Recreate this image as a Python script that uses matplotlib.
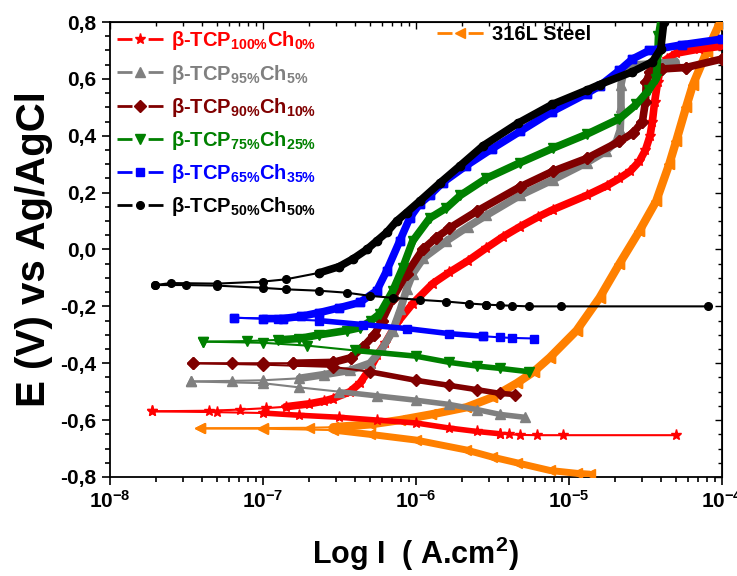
import numpy as np
import matplotlib
matplotlib.use('Agg')
import matplotlib.pyplot as plt
from matplotlib.lines import Line2D
from matplotlib.ticker import FuncFormatter, MultipleLocator, LogLocator, NullFormatter

plt.rcParams['font.family'] = ['Liberation Sans', 'DejaVu Sans']
plt.rcParams['font.weight'] = 'bold'
plt.rcParams['mathtext.fontset'] = 'custom'
plt.rcParams['mathtext.rm'] = 'Liberation Sans:bold'
plt.rcParams['mathtext.bf'] = 'Liberation Sans:bold'
plt.rcParams['mathtext.it'] = 'Liberation Sans:bold:italic'
plt.rcParams['mathtext.default'] = 'bf'

# values: (log10 I, E in V)
# b-TCP 100% / Ch 0%
red_anodic = [(-7.72, -0.569), (-7.35, -0.567), (-7.15, -0.563), (-6.98, -0.558), (-6.85, -0.553),
              (-6.7, -0.543), (-6.6, -0.533), (-6.54, -0.524), (-6.43, -0.50), (-6.365, -0.47),
              (-6.30, -0.42), (-6.25, -0.37), (-6.20, -0.33), (-6.125, -0.26), (-6.02, -0.19),
              (-5.89, -0.12), (-5.78, -0.08), (-5.66, -0.04), (-5.54, 0.005), (-5.43, 0.045),
              (-5.32, 0.08), (-5.2, 0.115), (-5.105, 0.14), (-4.885, 0.19), (-4.75, 0.225),
              (-4.67, 0.25), (-4.6, 0.275), (-4.54, 0.31), (-4.5, 0.35), (-4.47, 0.40),
              (-4.455, 0.45), (-4.44, 0.52), (-4.42, 0.59), (-4.40, 0.64), (-4.36, 0.67),
              (-4.30, 0.69), (-4.15, 0.705), (-4.0, 0.715)]
red_cathodic = [(-7.72, -0.569), (-7.3, -0.572), (-7.0, -0.575), (-6.76, -0.583), (-6.5, -0.59),
                (-6.25, -0.60), (-6.0, -0.61), (-5.78, -0.628), (-5.6, -0.64), (-5.45, -0.648)]
red_tail = [(-5.45, -0.648), (-5.39, -0.65), (-5.32, -0.652), (-5.21, -0.653), (-5.04, -0.653),
            (-4.30, -0.653)]

# b-TCP 95% / Ch 5%
gray_anodic = [(-7.465, -0.464), (-7.2, -0.462), (-7.0, -0.46), (-6.76, -0.453), (-6.6, -0.44),
               (-6.43, -0.425), (-6.3, -0.40), (-6.22, -0.35), (-6.15, -0.285), (-6.1, -0.21),
               (-6.06, -0.14), (-6.02, -0.085), (-5.95, -0.03), (-5.80, 0.03), (-5.66, 0.08),
               (-5.54, 0.12), (-5.32, 0.19), (-5.105, 0.245), (-4.885, 0.305), (-4.76, 0.345),
               (-4.69, 0.38), (-4.665, 0.42), (-4.66, 0.50), (-4.66, 0.58), (-4.64, 0.63),
               (-4.6, 0.648), (-4.455, 0.653), (-4.3, 0.66)]
gray_cathodic = [(-7.465, -0.464), (-7.0, -0.47), (-6.76, -0.485), (-6.5, -0.50), (-6.25, -0.515),
                 (-6.0, -0.53), (-5.78, -0.545), (-5.6, -0.563), (-5.45, -0.58), (-5.29, -0.59)]

# b-TCP 90% / Ch 10%
maroon_anodic = [(-7.455, -0.40), (-7.2, -0.40), (-7.0, -0.40), (-6.8, -0.40), (-6.54, -0.397),
                 (-6.42, -0.38), (-6.345, -0.343), (-6.27, -0.30), (-6.22, -0.25), (-6.15, -0.17),
                 (-6.06, -0.085), (-5.955, 0.0), (-5.87, 0.04), (-5.78, 0.075), (-5.60, 0.135),
                 (-5.32, 0.22), (-5.105, 0.275), (-4.885, 0.32), (-4.67, 0.38), (-4.58, 0.41),
                 (-4.52, 0.45), (-4.50, 0.52), (-4.495, 0.59), (-4.47, 0.625), (-4.39, 0.635),
                 (-4.235, 0.64), (-4.0, 0.67)]
maroon_cathodic = [(-7.455, -0.40), (-7.0, -0.405), (-6.54, -0.413), (-6.3, -0.43), (-6.0, -0.46),
                   (-5.78, -0.478), (-5.6, -0.493), (-5.45, -0.506), (-5.355, -0.51)]

# b-TCP 75% / Ch 25%
green_anodic = [(-7.39, -0.324), (-7.1, -0.322), (-6.9, -0.318), (-6.76, -0.313), (-6.63, -0.30),
                (-6.45, -0.285), (-6.365, -0.275), (-6.29, -0.25), (-6.235, -0.226), (-6.15, -0.145),
                (-6.085, -0.064), (-6.02, 0.03), (-5.91, 0.11), (-5.8, 0.146), (-5.71, 0.19),
                (-5.54, 0.25), (-5.32, 0.305), (-5.105, 0.356), (-4.885, 0.405), (-4.67, 0.46),
                (-4.56, 0.51), (-4.48, 0.56), (-4.43, 0.60), (-4.42, 0.68), (-4.415, 0.75),
                (-4.40, 0.80)]
green_cathodic = [(-7.39, -0.324), (-7.0, -0.328), (-6.71, -0.338), (-6.4, -0.355), (-6.0, -0.375),
                  (-5.78, -0.397), (-5.6, -0.41), (-5.45, -0.418), (-5.26, -0.43)]

# b-TCP 65% / Ch 35%
blue_anodic = [(-7.19, -0.24), (-7.0, -0.243), (-6.87, -0.243), (-6.75, -0.235), (-6.63, -0.222),
               (-6.5, -0.205), (-6.365, -0.186), (-6.255, -0.145), (-6.19, -0.075), (-6.105, 0.03),
               (-6.04, 0.11), (-5.975, 0.16), (-5.91, 0.19), (-5.825, 0.235), (-5.67, 0.295),
               (-5.50, 0.355), (-5.32, 0.415), (-5.11, 0.485), (-4.885, 0.548), (-4.80, 0.575),
               (-4.67, 0.63), (-4.585, 0.67), (-4.475, 0.70), (-4.26, 0.72), (-4.0, 0.74)]
blue_cathodic = [(-7.19, -0.24), (-6.9, -0.244), (-6.63, -0.25), (-6.345, -0.264), (-6.06, -0.278),
                 (-5.78, -0.296), (-5.56, -0.305)]
blue_tail = [(-5.56, -0.305), (-5.45, -0.309), (-5.37, -0.311), (-5.225, -0.313)]

# b-TCP 50% / Ch 50%
black_anodic = [(-7.70, -0.125), (-7.6, -0.118), (-7.3, -0.12), (-7.0, -0.113), (-6.85, -0.105),
                (-6.63, -0.082), (-6.5, -0.06), (-6.41, -0.033), (-6.32, 0.0), (-6.255, 0.03),
                (-6.19, 0.06), (-6.125, 0.10), (-6.06, 0.13), (-5.975, 0.17), (-5.84, 0.235),
                (-5.71, 0.295), (-5.56, 0.365), (-5.33, 0.445), (-5.11, 0.51), (-4.885, 0.56),
                (-4.8, 0.58), (-4.585, 0.625), (-4.455, 0.66), (-4.40, 0.706), (-4.38, 0.80)]
black_cathodic = [(-7.70, -0.125), (-7.5, -0.125), (-7.3, -0.127), (-7.0, -0.135), (-6.85, -0.14),
                  (-6.63, -0.145), (-6.45, -0.152), (-6.30, -0.163), (-6.15, -0.17), (-5.975, -0.177),
                  (-5.8, -0.183), (-5.65, -0.19), (-5.54, -0.194)]
black_tail = [(-5.54, -0.194), (-5.45, -0.196), (-5.37, -0.198), (-5.26, -0.20), (-5.05, -0.20),
              (-4.09, -0.20)]

# 316L steel
orange_anodic = [(-7.41, -0.629), (-7.0, -0.628), (-6.7, -0.627), (-6.54, -0.625), (-6.3, -0.615),
                 (-6.105, -0.60), (-5.9, -0.58), (-5.67, -0.555), (-5.5, -0.52), (-5.34, -0.47),
                 (-5.23, -0.43), (-5.125, -0.38), (-4.95, -0.285), (-4.80, -0.17), (-4.67, -0.05),
                 (-4.54, 0.065), (-4.43, 0.17), (-4.345, 0.30), (-4.30, 0.38), (-4.235, 0.50),
                 (-4.19, 0.58), (-4.10, 0.695), (-4.02, 0.79)]
orange_cathodic = [(-7.41, -0.629), (-7.0, -0.63), (-6.54, -0.635), (-6.3, -0.65), (-6.0, -0.67),
                   (-5.67, -0.705), (-5.5, -0.73), (-5.34, -0.75), (-5.125, -0.777), (-4.95, -0.787),
                   (-4.865, -0.79)]

labels = [r'β-TCP$_{100\%}$Ch$_{0\%}$', r'β-TCP$_{95\%}$Ch$_{5\%}$', r'β-TCP$_{90\%}$Ch$_{10\%}$',
          r'β-TCP$_{75\%}$Ch$_{25\%}$', r'β-TCP$_{65\%}$Ch$_{35\%}$', r'β-TCP$_{50\%}$Ch$_{50\%}$']
colors = ['#FF0000', '#808080', '#800000', '#008000', '#0000FF', '#000000']
markers = ['*', '^', 'D', 'v', 's', 'o']
msizes = [8, 7, 6, 7, 6, 5.5]
steel_color = '#FF8000'

fig = plt.figure(figsize=(7.37, 5.76), dpi=100)
ax = fig.add_axes([0.1486, 0.1719, 0.8311, 0.7899])


def branch(pts, color, marker, ms, dense_from=None, lw=5.5):
    arr = np.array(pts)
    x, y = 10 ** arr[:, 0], arr[:, 1]
    # thin line with markers (low-current part)
    ax.plot(x, y, color=color, lw=1.5, marker=marker, ms=ms, zorder=3)
    if dense_from is not None:
        m = arr[:, 0] >= dense_from
        m[np.argmax(m) - 1] = True
        ax.plot(x[m], y[m], color=color, lw=lw, marker=marker, ms=lw + 0.5,
                solid_capstyle='round', solid_joinstyle='round', zorder=3)


# where the band of dense points begins (log I)
anodic_dense = [-6.7, -6.7, -6.6, -6.8, -6.9, -6.5]
cathodic_dense = [-6.8, -6.4, -6.2, -6.3, -6.4, None]

branch(orange_anodic, steel_color, '<', 7, -6.3, 6)
branch(orange_cathodic, steel_color, '<', 7, -6.3, 5)

series = [(red_anodic, red_cathodic, red_tail), (gray_anodic, gray_cathodic, None),
          (maroon_anodic, maroon_cathodic, None), (green_anodic, green_cathodic, None),
          (blue_anodic, blue_cathodic, blue_tail), (black_anodic, black_cathodic, black_tail)]
for i, (up, dn, tail) in enumerate(series):
    c, m, s = colors[i], markers[i], msizes[i]
    branch(up, c, m, s, anodic_dense[i])
    branch(dn, c, m, s, cathodic_dense[i], 4)
    if tail is not None:
        branch(tail, c, m, s)

ax.set_xscale('log')
ax.set_xlim(1e-8, 1e-4)
ax.set_ylim(-0.8, 0.8)
ax.yaxis.set_major_locator(MultipleLocator(0.2))
ax.yaxis.set_minor_locator(MultipleLocator(0.05))
ax.yaxis.set_major_formatter(FuncFormatter(lambda v, p: f'{v:.1f}'.replace('.', ',')))
ax.xaxis.set_minor_locator(LogLocator(base=10, subs=np.arange(2, 10)))
ax.xaxis.set_minor_formatter(NullFormatter())
ax.tick_params(which='both', direction='out', labelsize=15, width=1.2)
ax.tick_params(which='major', length=6)
ax.tick_params(which='minor', length=3.5)
for s in ax.spines.values():
    s.set_linewidth(1.3)

# mirrored ticks on top and right point inwards
top = ax.secondary_xaxis('top')
top.xaxis.set_minor_locator(LogLocator(base=10, subs=np.arange(2, 10)))
top.tick_params(which='both', direction='in', labeltop=False, width=1.0)
top.tick_params(which='major', length=5)
top.tick_params(which='minor', length=3)
right = ax.secondary_yaxis('right')
right.yaxis.set_major_locator(MultipleLocator(0.2))
right.yaxis.set_minor_locator(MultipleLocator(0.05))
right.tick_params(which='both', direction='in', labelright=False, width=1.0)
right.tick_params(which='major', length=5)
right.tick_params(which='minor', length=3)

ax.set_xlabel('Log I  ( A.cm$^{2}$)', fontsize=22, fontweight='bold', labelpad=16)
ax.set_ylabel('E (V) vs Ag/AgCl', fontsize=29, fontweight='bold', labelpad=5)

handles = [Line2D([], [], color=c, marker=m, ls=(0, (5.4, 5.8)), lw=2, ms=s)
           for c, m, s in zip(colors, markers, msizes)]
leg = ax.legend(handles, labels, loc='upper left', bbox_to_anchor=(0.0, 1.0), frameon=False,
                fontsize=14.5, handlelength=2.3, handletextpad=0.4, labelspacing=0.5,
                borderaxespad=0.0, borderpad=0.37, numpoints=1)
for t, c in zip(leg.get_texts(), colors):
    t.set_color(c)
ax.add_artist(leg)

steel_handle = Line2D([], [], color=steel_color, marker='<', ls=(0, (5.4, 5.8)), lw=2, ms=7)
leg2 = ax.legend([steel_handle], ['316L Steel'], loc='upper left', bbox_to_anchor=(0.522, 1.011),
                 frameon=False, fontsize=14.5, handlelength=2.3, handletextpad=0.4,
                 borderaxespad=0.0, numpoints=1)
leg2.get_texts()[0].set_color('#000000')

fig.savefig('out.png', dpi=100)
